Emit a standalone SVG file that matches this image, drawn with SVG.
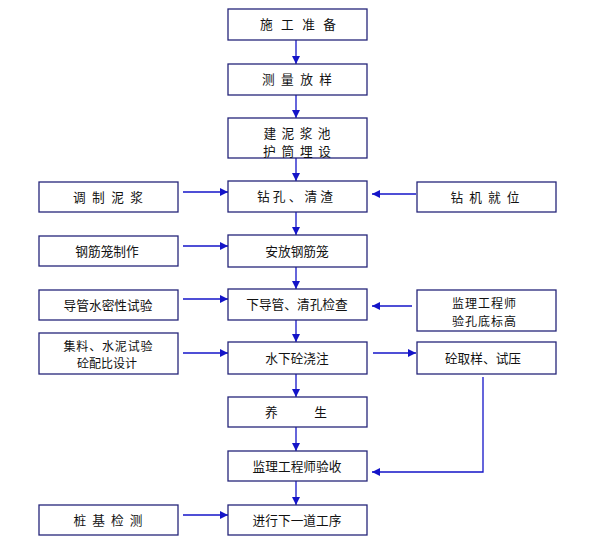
<svg xmlns="http://www.w3.org/2000/svg" width="594" height="544" viewBox="0 0 594 544">
<style>
.box{fill:#fff;stroke:#26267a;stroke-width:1.3}
.t{font-family:"Noto Sans CJK SC","Noto Sans",sans-serif;font-size:12.7px;fill:#111;text-anchor:middle}
.s{font-size:12px}
.ln{fill:none;stroke:#1414c8;stroke-width:1.3;marker-end:url(#ah)}
</style>
<defs>
<marker id="ah" markerUnits="userSpaceOnUse" markerWidth="9" markerHeight="9" refX="8" refY="4.5" orient="auto" viewBox="0 0 9 9">
<path d="M0,0.5 L8,4.5 L0,8.5 z" fill="#1414c8"/>
</marker>
</defs>
<rect width="594" height="544" fill="#fff"/>
<g id="connectors">
<path class="ln" d="M296,40 V64"/>
<path class="ln" d="M296,95 V118"/>
<path class="ln" d="M296,158 V181"/>
<path class="ln" d="M296,212 V235"/>
<path class="ln" d="M296,267 V289"/>
<path class="ln" d="M296,320 V342"/>
<path class="ln" d="M296,374 V397"/>
<path class="ln" d="M296,427 V451"/>
<path class="ln" d="M296,481 V505"/>
<path class="ln" d="M183,192 H228"/>
<path class="ln" d="M183,246 H228"/>
<path class="ln" d="M183,299 H228"/>
<path class="ln" d="M183,353 H228"/>
<path class="ln" d="M183,515 H228"/>
<path class="ln" d="M416,194 H372"/>
<path class="ln" d="M412,306 H372"/>
<path class="ln" d="M373,353 H416"/>
<path class="ln" d="M483,377 V472 H372"/>
</g>
<g id="n1"><rect class="box" x="228" y="9" width="139" height="31"/><text class="t" x="298" y="29" textLength="76" lengthAdjust="spacing">施工准备</text></g>
<g id="n2"><rect class="box" x="228" y="64" width="139" height="31"/><text class="t" x="297" y="84" textLength="70" lengthAdjust="spacing">测量放样</text></g>
<g id="n3"><rect class="box" x="228" y="118" width="139" height="40"/><text class="t" x="297" y="137.5" textLength="67" lengthAdjust="spacing">建泥浆池</text><text class="t" x="297" y="155.5" textLength="68" lengthAdjust="spacing">护筒埋设</text></g>
<g id="n4"><rect class="box" x="228" y="181" width="139" height="31"/><text class="t" x="295" y="201" textLength="76" lengthAdjust="spacing">钻孔、清渣</text></g>
<g id="n5"><rect class="box" x="228" y="235" width="139" height="32"/><text class="t" x="297" y="255.5">安放钢筋笼</text></g>
<g id="n6"><rect class="box" x="228" y="289" width="139" height="31"/><text class="t" x="297" y="309">下导管、清孔检查</text></g>
<g id="n7"><rect class="box" x="228" y="342" width="139" height="32"/><text class="t" x="297" y="362.5">水下砼浇注</text></g>
<g id="n8"><rect class="box" x="228" y="397" width="139" height="30"/><text class="t" x="296" y="416.5" textLength="62" lengthAdjust="spacing">养生</text></g>
<g id="n9"><rect class="box" x="228" y="451" width="139" height="30"/><text class="t" x="297" y="470.5">监理工程师验收</text></g>
<g id="n10"><rect class="box" x="228" y="505" width="139" height="30"/><text class="t" x="297" y="524.5">进行下一道工序</text></g>
<g id="l1"><rect class="box" x="39" y="182" width="139" height="30"/><text class="t" x="108" y="201.5" textLength="70" lengthAdjust="spacing">调制泥浆</text></g>
<g id="l2"><rect class="box" x="39" y="236" width="139" height="30"/><text class="t" x="107" y="255.5">钢筋笼制作</text></g>
<g id="l3"><rect class="box" x="39" y="290" width="139" height="30"/><text class="t" x="108" y="309.5">导管水密性试验</text></g>
<g id="l4"><rect class="box" x="39" y="333" width="139" height="41"/><text class="t s" x="108" y="350.5" textLength="89" lengthAdjust="spacing">集料、水泥试验</text><text class="t s" x="107" y="368">砼配比设计</text></g>
<g id="l5"><rect class="box" x="39" y="505" width="139" height="30"/><text class="t" x="108" y="524.5" textLength="69" lengthAdjust="spacing">桩基检测</text></g>
<g id="r1"><rect class="box" x="417" y="182" width="139" height="30"/><text class="t" x="485" y="201.5" textLength="69" lengthAdjust="spacing">钻机就位</text></g>
<g id="r2"><rect class="box" x="417" y="290" width="139" height="41"/><text class="t s" x="484" y="308" textLength="64" lengthAdjust="spacing">监理工程师</text><text class="t s" x="484" y="325.5" textLength="64" lengthAdjust="spacing">验孔底标高</text></g>
<g id="r3"><rect class="box" x="417" y="342" width="139" height="32"/><text class="t" x="483" y="362.5">砼取样、试压</text></g>
</svg>
